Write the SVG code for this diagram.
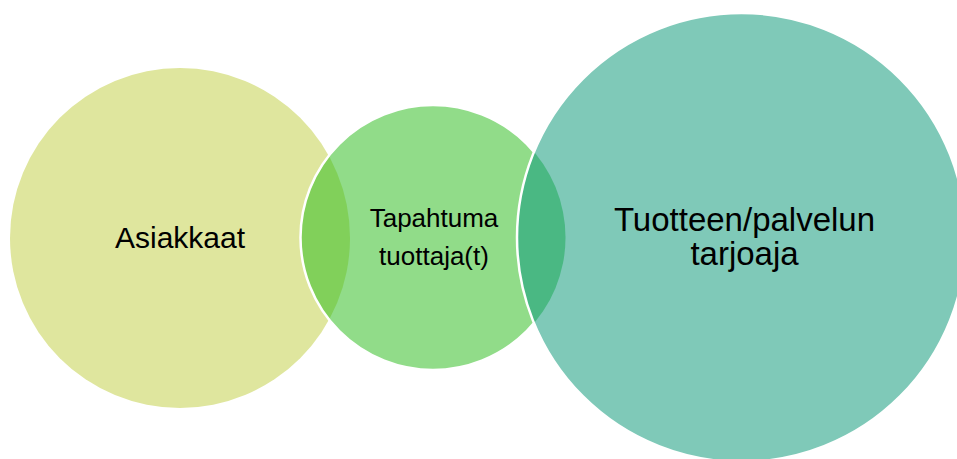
<svg xmlns="http://www.w3.org/2000/svg" width="957" height="459" viewBox="0 0 957 459">
<style>
.lbl{font-family:"Liberation Sans",Arial,sans-serif;fill:#000;text-anchor:middle}
.edge{fill:none;stroke:#fff;stroke-width:2.5}
</style>
<defs>
<clipPath id="cMid"><circle cx="433" cy="237.5" r="132.5"/></clipPath>
<clipPath id="cRight"><circle cx="741.5" cy="237.5" r="224.5"/></clipPath>
</defs>
<rect width="957" height="459" fill="#fff"/>
<g id="asiakkaat">
<circle cx="180" cy="238" r="170" fill="#DFE69E"/>
</g>
<g id="tapahtuma">
<circle cx="433" cy="237.5" r="132.5" fill="#91DC89"/>
<circle cx="180" cy="238" r="170" fill="#81D05A" clip-path="url(#cMid)"/>
<circle class="edge" cx="433" cy="237.5" r="132.5"/>
</g>
<g id="tarjoaja">
<circle cx="741.5" cy="237.5" r="224.5" fill="#7FC9B8"/>
<circle cx="433" cy="237.5" r="132.5" fill="#4AB883" clip-path="url(#cRight)"/>
<circle class="edge" cx="741.5" cy="237.5" r="224.5"/>
</g>
<g id="labels">
<text class="lbl" x="180" y="248" font-size="30">Asiakkaat</text>
<text class="lbl" x="434" y="227" font-size="26">Tapahtuma</text>
<text class="lbl" x="434" y="265" font-size="26">tuottaja(t)</text>
<text class="lbl" x="744.5" y="231" font-size="33">Tuotteen/palvelun</text>
<text class="lbl" x="744.5" y="265" font-size="33">tarjoaja</text>
</g>
<g id="connectors"/>
</svg>
